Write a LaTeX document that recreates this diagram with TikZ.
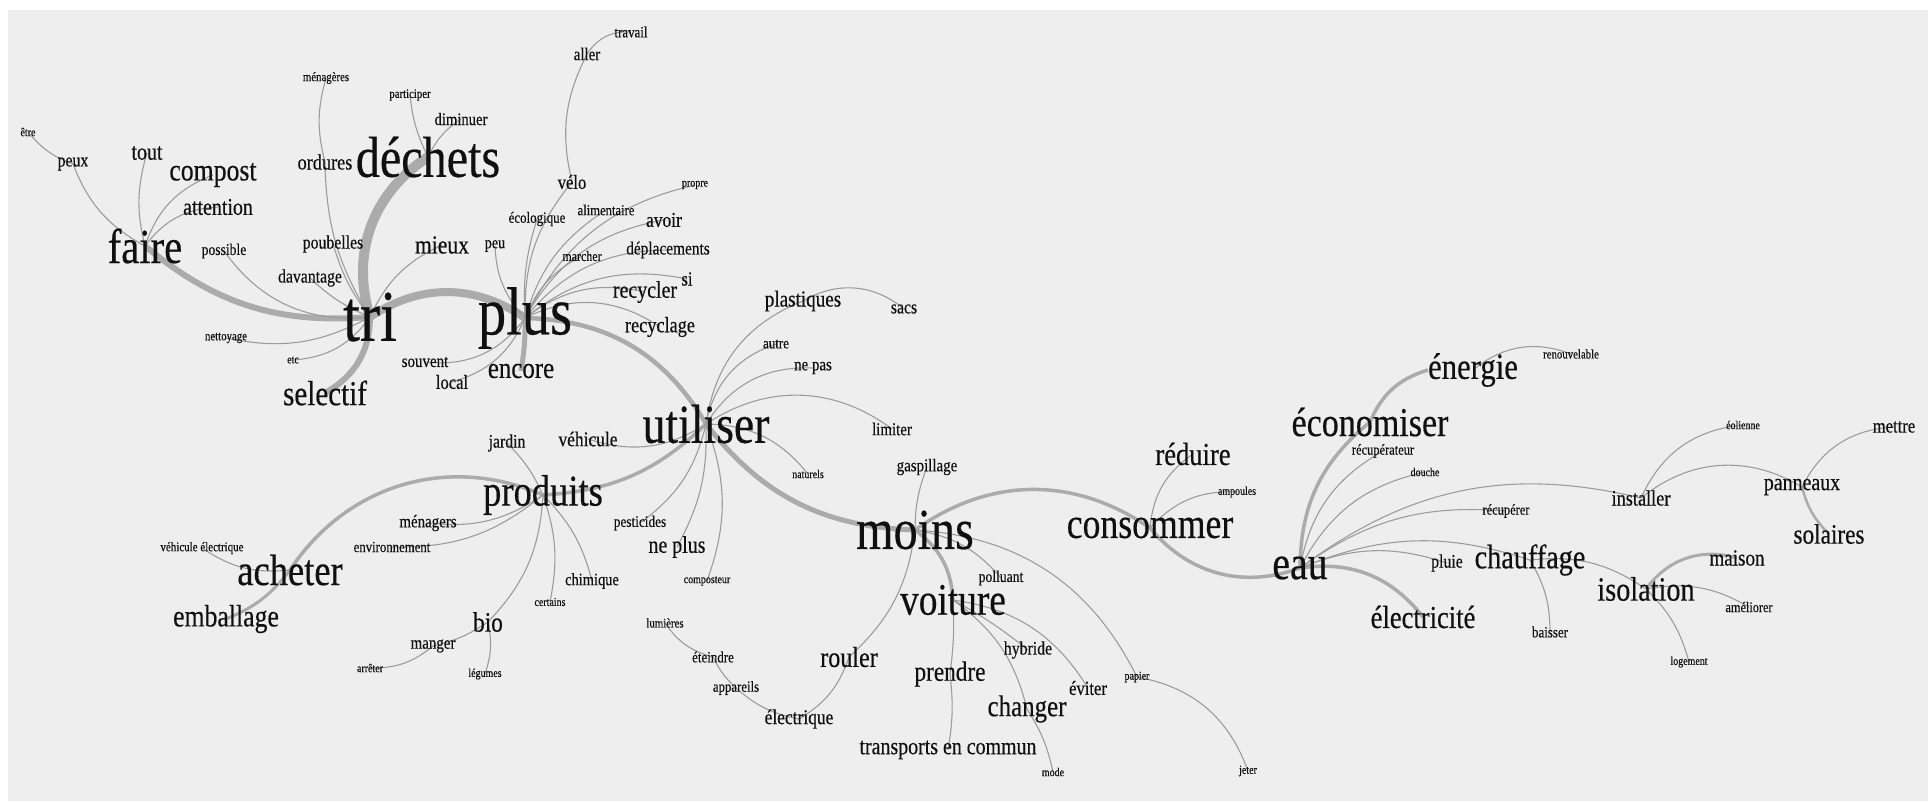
\documentclass[tikz,border=0pt]{standalone}
\usepackage{fontspec}
\setmainfont{Liberation Serif}[FakeStretch=0.83,FakeBold=0.35]
\pgfdeclarelayer{back}
\pgfdeclarelayer{bg}
\pgfsetlayers{back,bg,main}
\definecolor{bgc}{HTML}{EEEEEE}
\definecolor{lnc}{HTML}{9C9C9C}
\definecolor{thk}{HTML}{ABABAB}
\definecolor{txt}{HTML}{101010}
\tikzset{
  w/.style={font=\fontsize{#1}{#1}\selectfont, inner sep=0pt, text=txt},
  ln/.style={draw=lnc, line width=1.1pt},
  tk/.style={draw=thk, line width=#1},
}
\begin{document}
\begin{tikzpicture}[x=1pt,y=-1pt]
\begin{pgfonlayer}{back}
\path[use as bounding box, fill=white] (0,0) rectangle (1928,801);
\fill[bgc] (8,10) rectangle (1928,801);
\end{pgfonlayer}
% ---------- words ----------
\node[w=73] (tri) at (370,317) {tri};
\node[w=68] (plus) at (525,318) {plus};
\node[w=58] (dechets) at (428,157) {déchets};
\node[w=55] (utiliser) at (706,424) {utiliser};
\node[w=58] (moins) at (915,530) {moins};
\node[w=49] (faire) at (145,246) {faire};
\node[w=48] (eau) at (1300,568) {eau};
\node[w=44] (produits) at (543,495) {produits};
\node[w=44] (acheter) at (290,570) {acheter};
\node[w=43] (consommer) at (1150,528) {consommer};
\node[w=45] (voiture) at (953,600) {voiture};
\node[w=41] (econ) at (1370,422) {économiser};
\node[w=37] (energie) at (1473,370) {énergie};
\node[w=35] (selectif) at (325,393) {selectif};
\node[w=34] (isolation) at (1646,589) {isolation};
\node[w=34] (chauffage) at (1530,560) {chauffage};
\node[w=32] (reduire) at (1193,454) {réduire};
\node[w=32] (elec) at (1423,617) {électricité};
\node[w=31] (compost) at (213,175) {compost};
\node[w=31] (emballage) at (226,619) {emballage};
\node[w=30] (encore) at (521,371) {encore};
\node[w=30] (changer) at (1027,709) {changer};
\node[w=29] (rouler) at (849,657) {rouler};
\node[w=28] (prendre) at (950,674) {prendre};
\node[w=28] (bio) at (488,622) {bio};
\node[w=28] (solaires) at (1829,534) {solaires};
\node[w=26] (mieux) at (442,245) {mieux};
\node[w=24] (tout) at (147,153) {tout};
\node[w=24] (attention) at (218,207) {attention};
\node[w=24] (neplus) at (677,547) {ne plus};
\node[w=24] (panneaux) at (1802,487) {panneaux};
\node[w=24] (recycler) at (645,292) {recycler};
\node[w=24] (transports) at (948,750) {transports en commun};
\node[w=23] (plastiques) at (803,301) {plastiques};
\node[w=23] (maison) at (1737,558) {maison};
\node[w=22] (recyclage) at (660,327) {recyclage};
\node[w=22] (ordures) at (325,162) {ordures};
\node[w=22] (installer) at (1641,498) {installer};
\node[w=21] (avoir) at (664,220) {avoir};
\node[w=21] (vehicule) at (588,439) {véhicule};
\node[w=21] (electrique) at (799,719) {électrique};
\node[w=20] (velo) at (572,182) {vélo};
\node[w=20] (local) at (452,382) {local};
\node[w=20] (mettre) at (1894,427) {mettre};
\node[w=20] (eviter) at (1088,688) {éviter};
\node[w=20] (si) at (687,279) {si};
\node[w=19] (peux) at (73,164) {peux};
\node[w=19] (poubelles) at (333,244) {poubelles};
\node[w=19] (davantage) at (310,278) {davantage};
\node[w=18.5] (deplacements) at (668,250) {déplacements};
\node[w=18] (souvent) at (425,362) {souvent};
\node[w=18] (aller) at (587,54) {aller};
\node[w=18] (nepas) at (813,368) {ne pas};
\node[w=19] (sacs) at (904,309) {sacs};
\node[w=19] (jardin) at (507,443) {jardin};
\node[w=18] (menagers) at (428,523) {ménagers};
\node[w=18] (manger) at (433,646) {manger};
\node[w=18] (limiter) at (892,429) {limiter};
\node[w=18] (gaspillage) at (927,467) {gaspillage};
\node[w=19] (pluie) at (1447,563) {pluie};
\node[w=19] (hybride) at (1028,650) {hybride};
\node[w=17.6] (diminuer) at (461,119) {diminuer};
\node[w=17.4] (chimique) at (592,581) {chimique};
\node[w=17] (peu) at (495,246) {peu};
\node[w=16.4] (possible) at (224,251) {possible};
\node[w=16.4] (polluant) at (1001,578) {polluant};
\node[w=16] (pesticides) at (640,523) {pesticides};
\node[w=15.6] (travail) at (631,32) {travail};
\node[w=15.6] (ecologique) at (537,219) {écologique};
\node[w=15.6] (autre) at (776,344) {autre};
\node[w=15.6] (eteindre) at (713,657) {éteindre};
\node[w=15.6] (baisser) at (1550,632) {baisser};
\node[w=15.2] (alimentaire) at (606,210) {alimentaire};
\node[w=15.4] (environnement) at (392,547) {environnement};
\node[w=15.4] (appareils) at (736,688) {appareils};
\node[w=15] (recuperateur) at (1383,451) {récupérateur};
\node[w=15] (recuperer) at (1506,511) {récupérer};
\node[w=14.8] (ameliorer) at (1749,607) {améliorer};
\node[w=14.4] (marcher) at (582,256) {marcher};
\node[w=13.2] (vehel) at (202,548) {véhicule électrique};
\node[w=13] (lumieres) at (665,623) {lumières};
\node[w=12] (etre) at (28,132) {être};
\node[w=13] (menageres) at (326,78) {ménagères};
\node[w=13] (participer) at (410,95) {participer};
\node[w=13] (nettoyage) at (226,338) {nettoyage};
\node[w=12] (etc) at (293,360) {etc};
\node[w=12] (propre) at (695,185) {propre};
\node[w=12] (naturels) at (808,474) {naturels};
\node[w=12] (composteur) at (707,581) {composteur};
\node[w=12] (certains) at (550,602) {certains};
\node[w=12] (arreter) at (370,668) {arrêter};
\node[w=12] (legumes) at (485,674) {légumes};
\node[w=12] (mode) at (1053,772) {mode};
\node[w=12] (jeter) at (1248,771) {jeter};
\node[w=12] (papier) at (1137,677) {papier};
\node[w=12] (ampoules) at (1237,492) {ampoules};
\node[w=12] (douche) at (1425,472) {douche};
\node[w=13] (renouvelable) at (1571,354) {renouvelable};
\node[w=12] (eolienne) at (1743,425) {éolienne};
\node[w=12] (logement) at (1689,662) {logement};
% ---------- connectors ----------
\begin{pgfonlayer}{bg}
% thick
\draw[tk=10] (tri.center) to[bend left=37] (dechets.center);
\draw[tk=8] (tri.center) to[bend left=34] (plus.center);
\draw[tk=6] (faire.center) to[bend right=22] (tri.center);
\draw[tk=6] (selectif.center) to[bend right=30] (tri.center);
\draw[tk=4.5] (plus.center) to[bend left=29] (utiliser.center);
\draw[tk=5] (plus.center) to[bend left=5] (encore.center);
\draw[tk=5] (utiliser.center) to[bend right=25] (moins.center);
\draw[tk=3.5] (utiliser.center) to[bend left=20] (produits.center);
\draw[tk=3.5] (produits.center) to[bend right=40] (acheter.center);
\draw[tk=3] (acheter.center) to[bend left=15] (emballage.center);
\draw[tk=3.5] (moins.center) to[bend left=35] (consommer.center);
\draw[tk=3.5] (consommer.center) to[bend right=35] (eau.center);
\draw[tk=3.5] (moins.center) to[bend left=25] (voiture.center);
\draw[tk=3.5] (eau.center) to[bend left=25] (econ.center);
\draw[tk=3.5] (econ.center) to[bend left=25] (energie.west);
\draw[tk=3.5] (eau.center) to[bend left=30] (elec.center);
\draw[tk=3] (isolation.center) to[bend left=35] (maison.center);
\draw[tk=2.5] (panneaux.center) to[bend right=15] (solaires.center);
% thin
\draw[ln] (faire.center) to[bend left=20] (peux.center);
\draw[ln] (peux.center) to[bend left=15] (etre.center);
\draw[ln] (faire.center) to[bend left=15] (tout.center);
\draw[ln] (faire.center) to[bend left=25] (compost.center);
\draw[ln] (faire.center) to[bend left=25] (attention.center);
\draw[ln] (tri.center) to[bend left=30] (possible.center);
\draw[ln] (tri.center) to[bend left=10] (davantage.center);
\draw[ln] (menageres.center) to[bend right=15] (ordures.center);
\draw[ln] (ordures.center) to[bend right=15] (tri.center);
\draw[ln] (poubelles.center) to[bend right=10] (tri.center);
\draw[ln] (dechets.center) to[bend left=10] (participer.center);
\draw[ln] (dechets.center) to[bend left=15] (diminuer.center);
\draw[ln] (tri.center) to[bend left=20] (mieux.center);
\draw[ln] (tri.center) to[bend left=20] (nettoyage.center);
\draw[ln] (tri.center) to[bend left=25] (etc.center);
\draw[ln] (plus.center) to[bend left=30] (souvent.center);
\draw[ln] (plus.center) to[bend left=25] (local.center);
\draw[ln] (plus.center) to[bend left=20] (peu.center);
\draw[ln] (plus.center) to[bend left=20] (velo.center);
\draw[ln] (velo.center) to[bend left=20] (aller.center);
\draw[ln] (aller.center) to[bend left=30] (travail.center);
\draw[ln] (plus.center) to[bend left=10] (ecologique.center);
\draw[ln] (plus.center) to[bend left=20] (alimentaire.center);
\draw[ln] (plus.center) to[bend left=25] (propre.center);
\draw[ln] (plus.center) to[bend left=25] (avoir.center);
\draw[ln] (plus.center) to[bend left=20] (marcher.center);
\draw[ln] (plus.center) to[bend left=25] (deplacements.center);
\draw[ln] (plus.center) to[bend left=25] (si.center);
\draw[ln] (plus.center) to[bend left=25] (recycler.center);
\draw[ln] (plus.center) to[bend left=30] (recyclage.center);
\draw[ln] (utiliser.center) to[bend left=30] (plastiques.center);
\draw[ln] (plastiques.center) to[bend left=35] (sacs.center);
\draw[ln] (utiliser.center) to[bend left=30] (autre.center);
\draw[ln] (utiliser.center) to[bend left=30] (nepas.center);
\draw[ln] (utiliser.center) to[bend left=35] (limiter.center);
\draw[ln] (utiliser.center) to[bend left=25] (naturels.center);
\draw[ln] (utiliser.center) to[bend left=25] (vehicule.center);
\draw[ln] (utiliser.center) to[bend left=20] (pesticides.center);
\draw[ln] (utiliser.center) to[bend left=15] (neplus.center);
\draw[ln] (utiliser.center) to[bend left=20] (composteur.center);
\draw[ln] (produits.center) to[bend right=10] (jardin.center);
\draw[ln] (produits.center) to[bend left=20] (menagers.center);
\draw[ln] (produits.center) to[bend left=20] (environnement.center);
\draw[ln] (produits.center) to[bend left=20] (bio.center);
\draw[ln] (produits.center) to[bend left=15] (certains.center);
\draw[ln] (produits.center) to[bend left=15] (chimique.center);
\draw[ln] (bio.center) to[bend left=10] (manger.center);
\draw[ln] (manger.center) to[bend left=20] (arreter.center);
\draw[ln] (bio.center) to[bend left=15] (legumes.center);
\draw[ln] (acheter.center) to[bend left=20] (vehel.center);
\draw[ln] (moins.center) to[bend left=10] (gaspillage.center);
\draw[ln] (moins.center) to[bend left=20] (rouler.center);
\draw[ln] (rouler.center) to[bend left=20] (electrique.center);
\draw[ln] (electrique.center) to[bend left=15] (appareils.center);
\draw[ln] (appareils.center) to[bend left=10] (eteindre.center);
\draw[ln] (eteindre.center) to[bend left=20] (lumieres.center);
\draw[ln] (moins.center) to[bend left=20] (polluant.center);
\draw[ln] (moins.center) to[bend left=30] (papier.center);
\draw[ln] (papier.center) to[bend left=30] (jeter.center);
\draw[ln] (voiture.center) to[bend left=5] (hybride.center);
\draw[ln] (voiture.center) to[bend left=20] (changer.center);
\draw[ln] (changer.center) to[bend left=10] (mode.center);
\draw[ln] (voiture.center) to[bend left=25] (eviter.center);
\draw[ln] (voiture.center) to[bend left=5] (prendre.center);
\draw[ln] (prendre.center) to[bend left=8] (transports.center);
\draw[ln] (consommer.center) to[bend left=25] (reduire.center);
\draw[ln] (consommer.center) to[bend left=25] (ampoules.center);
\draw[ln] (eau.center) to[bend left=25] (recuperateur.center);
\draw[ln] (eau.center) to[bend left=25] (douche.center);
\draw[ln] (eau.center) to[bend left=25] (installer.center);
\draw[ln] (eau.center) to[bend left=20] (recuperer.center);
\draw[ln] (eau.center) to[bend left=20] (chauffage.center);
\draw[ln] (chauffage.center) to[bend left=20] (isolation.center);
\draw[ln] (eau.center) to[bend left=20] (pluie.center);
\draw[ln] (installer.center) to[bend left=30] (eolienne.center);
\draw[ln] (installer.center) to[bend left=35] (panneaux.center);
\draw[ln] (panneaux.center) to[bend left=30] (mettre.center);
\draw[ln] (chauffage.center) to[bend left=15] (baisser.center);
\draw[ln] (isolation.center) to[bend left=20] (ameliorer.center);
\draw[ln] (isolation.center) to[bend left=15] (logement.center);
\draw[ln] (energie.center) to[bend left=30] (renouvelable.center);
\end{pgfonlayer}
\end{tikzpicture}
\end{document}
